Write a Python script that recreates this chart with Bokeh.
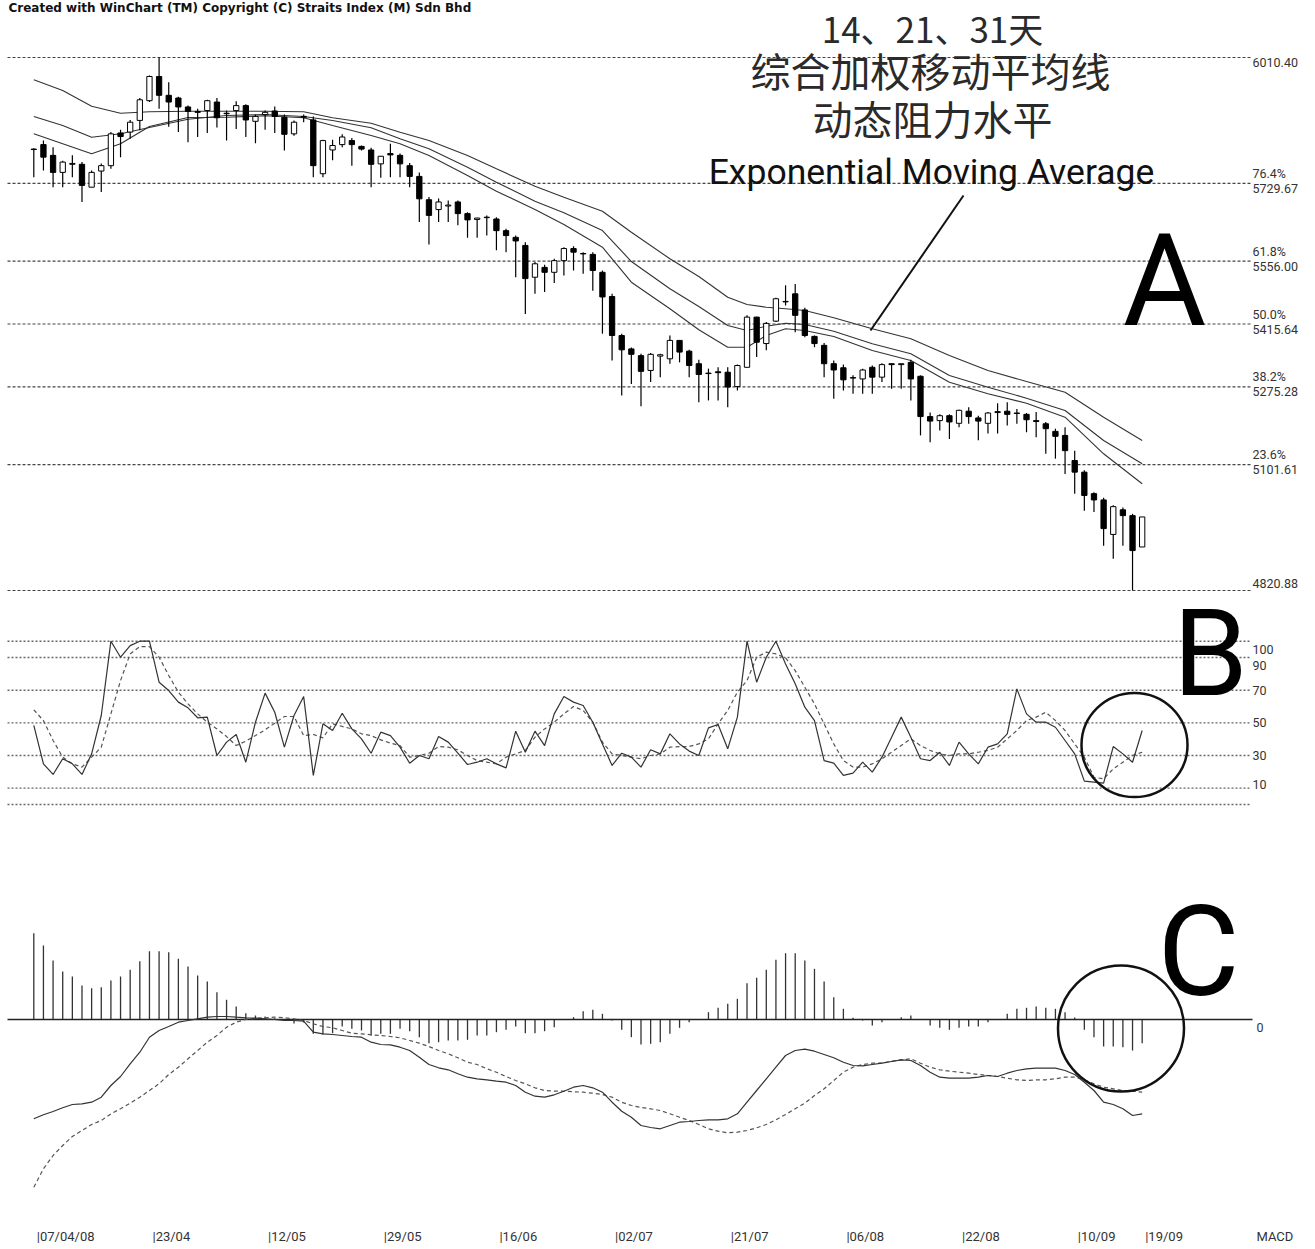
from bokeh.plotting import figure
from bokeh.models import ColumnDataSource, Range1d
from bokeh.core.properties import value
from bokeh.embed import file_html
from bokeh.resources import INLINE

# ---------------- data ----------------
highs = [5808, 5825, 5810, 5780, 5792, 5777, 5758, 5774, 5844, 5849,
         5871, 5920, 5970, 6010.40, 5955, 5923, 5903, 5896, 5916, 5920,
         5892, 5913, 5906, 5883, 5892, 5901, 5883, 5870, 5883, 5879,
         5827, 5827, 5839, 5831, 5814, 5809, 5790, 5818, 5796, 5775,
         5754, 5699, 5696, 5691, 5691, 5665, 5653, 5658, 5654, 5628,
         5613, 5598, 5554, 5548, 5561, 5587, 5589, 5576, 5576, 5535,
         5483, 5394, 5363, 5349, 5351, 5349, 5390, 5380, 5358, 5336,
         5316, 5319, 5319, 5325, 5435, 5432, 5420, 5474, 5502, 5505,
         5452, 5390, 5373, 5334, 5325, 5301, 5316, 5323, 5328, 5327,
         5327, 5336, 5301, 5218, 5214, 5214, 5224, 5230, 5211, 5219,
         5239, 5241, 5226, 5217, 5219, 5197, 5182, 5185, 5133, 5089,
         5040, 5028, 5011, 5006, 4992, 4985]
opens = [5806, 5816, 5792, 5754, 5772, 5772, 5721, 5757, 5769, 5842,
         5844, 5870, 5914, 5968, 5926, 5920, 5900, 5890, 5892, 5911,
         5886, 5892, 5903, 5868, 5883, 5891, 5877, 5840, 5879, 5871,
         5751, 5804, 5816, 5825, 5812, 5804, 5773, 5796, 5792, 5769,
         5745, 5693, 5671, 5679, 5688, 5662, 5649, 5653, 5650, 5624,
         5609, 5591, 5520, 5542, 5531, 5557, 5584, 5573, 5571, 5531,
         5477, 5390, 5360, 5345, 5312, 5344, 5338, 5379, 5355, 5327,
         5306, 5309, 5308, 5276, 5319, 5431, 5372, 5422, 5465, 5483,
         5447, 5388, 5368, 5327, 5318, 5296, 5293, 5319, 5297, 5327,
         5325, 5330, 5299, 5209, 5200, 5211, 5194, 5221, 5206, 5194,
         5220, 5221, 5217, 5214, 5200, 5193, 5176, 5167, 5111, 5085,
         5037, 5023, 4946, 5001, 4988, 4918]
closes = [5805, 5788, 5754, 5777, 5774, 5725, 5754, 5769, 5840, 5834,
          5866, 5916, 5968, 5926, 5911, 5900, 5890, 5888, 5914, 5876,
          5885, 5903, 5871, 5879, 5888, 5879, 5839, 5866, 5877, 5769,
          5825, 5814, 5833, 5816, 5806, 5772, 5790, 5793, 5773, 5745,
          5695, 5658, 5688, 5681, 5662, 5648, 5652, 5654, 5624, 5613,
          5601, 5517, 5550, 5531, 5557, 5584, 5576, 5572, 5535, 5476,
          5390, 5358, 5348, 5310, 5348, 5347, 5379, 5353, 5323, 5303,
          5305, 5307, 5275, 5323, 5431, 5375, 5417, 5472, 5466, 5435,
          5390, 5372, 5327, 5313, 5291, 5295, 5313, 5297, 5325, 5325,
          5327, 5293, 5209, 5199, 5211, 5197, 5223, 5209, 5199, 5217,
          5218, 5214, 5216, 5202, 5198, 5182, 5165, 5133, 5085, 5033,
          5023, 4959, 5008, 4988, 4910, 4985]
lows = [5743, 5758, 5721, 5721, 5743, 5688, 5721, 5710, 5762, 5788,
        5829, 5848, 5911, 5896, 5856, 5844, 5821, 5833, 5842, 5854,
        5825, 5851, 5833, 5819, 5849, 5842, 5803, 5836, 5866, 5743,
        5743, 5781, 5810, 5769, 5803, 5721, 5742, 5743, 5743, 5721,
        5643, 5593, 5643, 5643, 5636, 5608, 5608, 5613, 5580, 5576,
        5520, 5438, 5483, 5487, 5507, 5524, 5535, 5528, 5490, 5394,
        5334, 5256, 5282, 5232, 5286, 5297, 5327, 5330, 5297, 5241,
        5245, 5245, 5230, 5267, 5319, 5342, 5357, 5420, 5457, 5397,
        5386, 5364, 5297, 5249, 5267, 5260, 5260, 5260, 5286, 5271,
        5271, 5245, 5167, 5152, 5178, 5159, 5185, 5193, 5156, 5171,
        5171, 5189, 5193, 5174, 5163, 5126, 5115, 5081, 5037, 4999,
        4996, 4921, 4892, 4921, 4820.88, 4918]

ema_idx = [0, 3, 6, 9, 12, 16, 20, 24, 28, 31, 35, 38, 41, 45, 48, 52, 55, 59,
           62, 66, 69, 72, 74, 76, 78, 80, 83, 87, 91, 95, 99, 103, 107, 111, 115]
ema31 = [5960.6, 5936.8, 5901.7, 5886.1, 5889.2, 5890.6, 5890.6, 5890.6, 5889.2,
         5875.8, 5863.8, 5843.7, 5825.2, 5791.7, 5762.0, 5723.2, 5698.6, 5667.4,
         5620.5, 5561.2, 5521.7, 5475.5, 5459.2, 5453.1, 5449.6, 5445.8, 5429.5,
         5404.9, 5382.6, 5345.4, 5311.9, 5287.3, 5263.5, 5207.7, 5155.7]
ema21 = [5878.7, 5858.6, 5832.5, 5840.1, 5854.2, 5872.7, 5881.0, 5883.2, 5878.7,
         5869.8, 5853.5, 5829.0, 5806.6, 5765.6, 5732.1, 5689.7, 5663.8, 5624.3,
         5555.1, 5494.2, 5454.7, 5412.3, 5401.2, 5410.7, 5417.4, 5414.5, 5399.6,
         5371.5, 5349.2, 5300.7, 5274.6, 5250.1, 5222.6, 5155.7, 5103.7]
ema14 = [5840.1, 5817.8, 5795.5, 5817.8, 5856.4, 5876.5, 5877.2, 5880.3, 5875.8,
         5858.6, 5836.3, 5817.8, 5791.7, 5747.1, 5712.0, 5671.2, 5637.7, 5587.1,
         5508.9, 5449.6, 5402.7, 5363.9, 5363.9, 5390.0, 5404.9, 5401.2, 5387.8,
         5356.5, 5334.2, 5285.8, 5259.9, 5238.9, 5207.7, 5126.0, 5059.0]

fib_levels = [6010.40, 5729.67, 5556.00, 5415.64, 5275.28, 5101.61, 4820.88]
fib_pct = ["", "76.4%", "61.8%", "50.0%", "38.2%", "23.6%", ""]
fib_txt = ["6010.40", "5729.67", "5556.00", "5415.64", "5275.28", "5101.61", "4820.88"]

stoch_k = [48.4, 24.9, 18.4, 28.0, 24.9, 18.4, 31.0, 54.5, 100, 90.2,
           97.3, 100, 100, 74.9, 69.8, 62.7, 59.2, 53.1, 53.5, 30.0,
           38.2, 42.9, 25.9, 50.4, 68.2, 56.5, 35.1, 54.5, 66.1, 17.8,
           49.4, 45.3, 55.9, 46.3, 40.2, 31.4, 44.3, 42.2, 35.1, 25.3,
           30.0, 28.0, 41.6, 38.2, 31.4, 24.5, 25.9, 28.0, 24.9, 22.4,
           44.9, 32.0, 44.9, 36.1, 55.5, 66.1, 62.7, 60.6, 50.4, 37.1,
           23.9, 31.4, 29.0, 22.9, 33.5, 31.0, 43.3, 37.1, 32.7, 30.0,
           46.9, 49.0, 34.1, 53.5, 100, 74.9, 90.2, 100, 86.1, 73.9,
           59.6, 51.4, 26.9, 25.3, 17.8, 19.2, 25.9, 19.8, 29.0, 41.2,
           53.5, 41.2, 28.0, 26.9, 32.0, 23.9, 38.2, 31.0, 24.9, 35.1,
           37.1, 43.3, 70.8, 55.5, 50.4, 50.4, 47.3, 39.2, 31.0, 14.3,
           13.7, 13.1, 35.5, 31.0, 25.9, 45.3]
stoch_d = [58.0, 51.4, 39.2, 29.0, 24.9, 22.9, 29.0, 35.1, 55.5, 75.9,
           92.2, 96.7, 96.7, 90.2, 79.0, 68.8, 61.6, 55.5, 50.4, 46.3,
           41.6, 36.1, 38.8, 42.2, 45.7, 49.8, 53.9, 53.9, 42.2, 42.9,
           40.8, 49.4, 47.8, 46.3, 43.3, 42.2, 39.6, 37.6, 36.1, 29.0,
           30.0, 31.4, 35.5, 35.1, 33.5, 30.0, 26.9, 25.9, 24.9, 29.0,
           31.0, 33.1, 41.2, 46.3, 50.4, 55.5, 60.0, 57.6, 50.4, 38.2,
           31.0, 30.0, 29.0, 28.0, 30.0, 31.0, 35.1, 35.5, 35.5, 37.1,
           40.2, 49.4, 57.6, 68.8, 75.9, 90.2, 93.3, 92.2, 89.8, 82.0,
           71.8, 61.6, 49.4, 37.1, 26.9, 22.9, 22.9, 24.9, 28.0, 32.0,
           36.1, 40.2, 36.1, 33.1, 31.0, 30.0, 31.0, 31.0, 32.0, 33.1,
           35.1, 40.2, 45.3, 51.4, 53.5, 56.5, 51.4, 45.3, 37.1, 29.0,
           16.7, 15.7, 21.8, 25.9, 30.0, 32.0]
stoch_levels = [100, 90, 70, 50, 30, 10, 0]
stoch_labels = ["100", "90", "70", "50", "30", "10", ""]

macd_hist = [86.3, 74, 59, 48, 43, 34, 31.3, 32.3, 39, 43,
             49.7, 58.3, 68.3, 68.3, 67.3, 60.7, 53, 44, 38, 27.3,
             19.7, 13, 6.3, 4, 3, 1.3, -1, -4, -3, -14.3,
             -15, -13.7, -7, -9.3, -11, -16, -14.3, -14.3, -9.3, -11.7,
             -17.7, -23.7, -22.7, -21, -21, -20.3, -16, -16, -12.7, -10.3,
             -7, -13.7, -13.7, -11.7, -7.7, 0.3, 2.3, 8.3, 9.7, 5.7,
             -1, -10.3, -17.7, -25, -24.3, -22.7, -14.3, -8.3, -2.7, 0.3,
             7.3, 11.7, 15.7, 20.7, 36.3, 41.7, 49.7, 59.7, 66.3, 66.3,
             59, 50.7, 38, 22.3, 10.7, 1.7, -1, -6, -2.7, 0.3,
             2.3, 4, 0.3, -6, -8.3, -10.3, -8.3, -7, -7, -2.7,
             0.3, 5.7, 10.7, 11.7, 13, 11.7, 10.7, 7.3, 2, -10.3,
             -17.7, -27, -27, -27.7, -31, -23.7]
macd_line = [-99.3, -95.3, -92, -88.3, -85, -84.3, -82.7, -77.7, -66, -57,
             -44.3, -32.7, -17.7, -11, -7, -2.7, -1, 0.7, 2.3, 3,
             3, 2.3, 1.7, 1.3, 0.7, 0, -1, -1, -1.7, -12.7,
             -14.3, -15, -16, -17, -17.7, -22.7, -25, -25.3, -27.7, -31,
             -37.7, -45, -48.3, -50.3, -54.3, -57.7, -59.3, -60.3, -61.7, -62.7,
             -66, -72.7, -76.7, -77.7, -75.3, -71.7, -67.7, -66, -68.3, -72.7,
             -82.7, -91.7, -97.7, -106, -108, -109.3, -106, -102.7, -102, -101,
             -100.3, -100.3, -99.3, -94.3, -82.7, -71, -59.3, -47.7, -36, -31,
             -29.7, -31.7, -35, -38.3, -42.7, -46, -46.3, -45, -43.7, -42,
             -40.3, -41, -46, -52.7, -57.7, -58.7, -58.7, -58.7, -57.7, -56,
             -57, -53.7, -51, -49.3, -48.7, -48.7, -48.7, -51, -55, -62.7,
             -71, -82.7, -85, -89.3, -96, -94.3]
macd_signal = [-167.7, -149.3, -136, -126, -117, -111, -105, -101, -94.3, -89.3,
               -83.7, -77.7, -71, -64.3, -55, -47.7, -39.3, -31, -22.7, -16,
               -7.7, -2.7, 0, 1.3, 1.7, 2.3, 1.7, 0.7, -1, -4.3,
               -7, -8.3, -11, -13.7, -14.3, -15.3, -16, -17, -18.3, -21,
               -23.7, -27, -31, -34.3, -38.3, -42.7, -45, -49.3, -52.7, -57,
               -61, -64.3, -68.3, -71, -71.7, -71.7, -72.3, -72.7, -73.7, -75,
               -77.7, -82.7, -86, -88, -89.3, -91, -94.3, -97.7, -101, -105,
               -109.3, -111.7, -113.3, -112.7, -111, -108.3, -105, -100.3, -95, -89.3,
               -83.7, -76, -69.3, -61, -52.7, -47.7, -45, -43.7, -43.7, -41.7,
               -40.3, -39.3, -43.7, -47.7, -50.3, -51.7, -52.7, -53.7, -55, -56,
               -57, -58.7, -60.3, -61, -60.3, -60.3, -59.3, -57.7, -57.7, -60.3,
               -64.3, -67.7, -69.3, -71, -71.7, -72.7]

date_idx = [0, 12, 24, 36, 48, 60, 72, 84, 96, 108, 115]
date_txt = ["07/04/08", "23/04", "12/05", "29/05", "16/06", "02/07",
            "21/07", "06/08", "22/08", "10/09", "19/09"]

# ---------------- layout (page pixels) ----------------
W, H = 1312, 1246
FRAME_LEFT, FRAME_TOP = 0, 0
X0_PX, BAR_PX = 33.3, 9.638
A_TOP_PX, A_BOT_PX = 57, 590
B_TOP_PX, B_BOT_PX = 640.7, 804.0
C_ZERO_PX = 1019.0
LINE_START_PX, LINE_END_PX = 7, 1250
LABEL_PX = 1252

SANS = "Roboto"
CJK = "Noto Sans CJK SC"


def dx(px):
    return (px - X0_PX) / BAR_PX


top_lvl, bot_lvl = fib_levels[0], fib_levels[-1]
SP = (top_lvl - bot_lvl) / (A_BOT_PX - A_TOP_PX)


def dy(px):
    return top_lvl - (px - A_TOP_PX) * SP


SB = 100.0 / (B_BOT_PX - B_TOP_PX)

p = figure(width=W, height=H, output_backend="svg", toolbar_location=None,
           x_range=Range1d(dx(FRAME_LEFT), dx(FRAME_LEFT + W)),
           y_range=Range1d(dy(FRAME_TOP + H), dy(FRAME_TOP)),
           x_axis_type=None, y_axis_type=None, min_border=0,
           min_border_left=0, min_border_right=0, min_border_top=0, min_border_bottom=0)
p.outline_line_color = None
p.background_fill_color = "white"
p.extra_y_ranges = {
    "stoch": Range1d(-(FRAME_TOP + H - B_BOT_PX) * SB, (B_BOT_PX - FRAME_TOP) * SB),
    "macd": Range1d(-(FRAME_TOP + H - C_ZERO_PX), (C_ZERO_PX - FRAME_TOP)),
}

xl, xr = dx(LINE_START_PX), dx(LINE_END_PX)
LAB_FONT = "12.5px"

# ---------- panel A: fibonacci levels ----------
n = len(fib_levels)
p.segment(x0=[xl] * n, x1=[xr] * n, y0=fib_levels, y1=fib_levels,
          line_color="#444444", line_width=1.2, line_dash="3 2")
lab_x, lab_y, lab_t, lab_off = [], [], [], []
for i, (lv, pc, tx) in enumerate(zip(fib_levels, fib_pct, fib_txt)):
    if pc:
        lab_x += [dx(LABEL_PX)] * 2
        lab_y += [lv, lv]
        lab_t += [pc, tx]
        lab_off += [-10, 5]
    else:
        lab_x.append(dx(LABEL_PX))
        lab_y.append(lv)
        lab_t.append(tx)
        lab_off.append(5 if i == 0 else -7)
p.text(x="x", y="y", text="t", y_offset="o",
       source=ColumnDataSource(dict(x=lab_x, y=lab_y, t=lab_t, o=lab_off)),
       text_font=value(SANS), text_font_size=LAB_FONT, text_color="#333333",
       text_baseline="middle", text_align="left")

# ---------- panel A: EMAs ----------
for ema in (ema31, ema21, ema14):
    p.line(ema_idx, ema, line_color="#333333", line_width=1.1)

# ---------- panel A: candles ----------
idx = list(range(len(opens)))
csrc = ColumnDataSource(dict(
    x=idx, high=highs, low=lows,
    top=[max(o, c) for o, c in zip(opens, closes)],
    bottom=[min(o, c) for o, c in zip(opens, closes)],
    fill=["white" if c > o else "black" for o, c in zip(opens, closes)],
))
p.segment(x0="x", x1="x", y0="low", y1="high", source=csrc,
          line_color="black", line_width=1.2)
p.vbar(x="x", width=0.55, top="top", bottom="bottom", source=csrc,
       fill_color="fill", line_color="black", line_width=1)

# ---------- panel B: stochastic ----------
ns = len(stoch_levels)
p.segment(x0=[xl] * ns, x1=[xr] * ns, y0=stoch_levels, y1=stoch_levels,
          y_range_name="stoch", line_color="#666666", line_width=1.4, line_dash="2 2")
s_off = [8, 8, 0, 0, 0, -4, 0]
p.text(x=[dx(LABEL_PX)] * ns, y=stoch_levels, text=stoch_labels, y_offset=s_off,
       y_range_name="stoch", text_font=value(SANS), text_font_size=LAB_FONT,
       text_color="#333333", text_baseline="middle", text_align="left")
p.line(idx, stoch_d, y_range_name="stoch", line_color="#555555", line_width=1.2,
       line_dash="4 3")
p.line(idx, stoch_k, y_range_name="stoch", line_color="#333333", line_width=1.2)

# ---------- panel C: MACD ----------
p.segment(x0=idx, x1=idx, y0=[0] * len(idx), y1=macd_hist, y_range_name="macd",
          line_color="#333333", line_width=1.3)
p.segment(x0=[xl], x1=[dx(LINE_END_PX + 2)], y0=[0], y1=[0], y_range_name="macd",
          line_color="#222222", line_width=1.3)
p.text(x=[dx(1256)], y=[0], text=["0"], y_offset=[8], y_range_name="macd",
       text_font=value(SANS), text_font_size=LAB_FONT, text_color="#333333",
       text_baseline="middle", text_align="left")
p.line(idx, macd_signal, y_range_name="macd", line_color="#555555", line_width=1.2,
       line_dash="4 3")
p.line(idx, macd_line, y_range_name="macd", line_color="#333333", line_width=1.2)

# ---------- date labels ----------
p.text(x=date_idx, y=[dy(1236)] * len(date_idx), text=["|" + d for d in date_txt],
       x_offset=[3] * len(date_idx), text_font=value(SANS), text_font_size="13px",
       text_color="#333333", text_baseline="middle", text_align="left")
p.text(x=[dx(1256)], y=[dy(1236)], text=["MACD"], text_font=value(SANS),
       text_font_size="13px", text_color="#333333", text_baseline="middle",
       text_align="left")

# ---------- header ----------
p.text(x=[dx(8)], y=[dy(0)], text=["Created with WinChart (TM)  Copyright (C) Straits Index (M) Sdn Bhd"],
       text_font=value("DejaVu Sans"), text_font_style="bold", text_font_size="12px",
       text_color="#111111", text_baseline="top", text_align="left")

# ---------- annotations ----------
p.text(x=[dx(932)], y=[dy(27)], text=["14、21、31天"], text_font=value(CJK),
       text_font_size="35px", text_color="#2a2a2a", text_baseline="middle", text_align="center")
p.text(x=[dx(930), dx(932)], y=[dy(69), dy(117)], text=["综合加权移动平均线", "动态阻力水平"],
       text_font=value(CJK), text_font_size="40px", text_color="#2a2a2a",
       text_baseline="middle", text_align="center")
p.text(x=[dx(931)], y=[dy(171)], text=["Exponential Moving Average"], text_font=value(SANS),
       text_font_size="35.5px", text_color="#111111", text_baseline="alphabetic", text_align="center")
p.segment(x0=[dx(963)], y0=[dy(195)], x1=[dx(870)], y1=[dy(330)], line_color="#111111", line_width=2)

p.text(x=[dx(1164)], y=[dy(280)], text=["A"], text_font=value(SANS), text_font_size="128px",
       text_color="black", text_baseline="alphabetic", text_align="center")
p.text(x=[dx(1210)], y=[dy(653)], text=["B"], text_font=value(SANS), text_font_size="120px",
       text_color="black", text_baseline="alphabetic", text_align="center")
p.text(x=[dx(1198)], y=[dy(951)], text=["C"], text_font=value(SANS), text_font_size="126px",
       text_color="black", text_baseline="alphabetic", text_align="center")

p.ellipse(x=[dx(1134), dx(1120.5)], y=[dy(744.5), dy(1028)], width=[106, 126], height=[104, 126],
          width_units="screen", height_units="screen", fill_color=None,
          line_color="#111111", line_width=2.5)

open("out.html", "w").write(file_html(p, INLINE))
